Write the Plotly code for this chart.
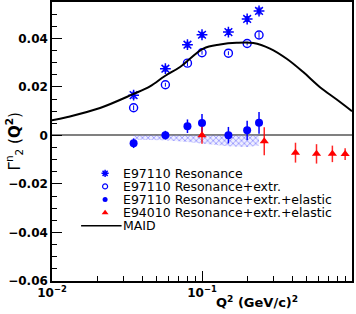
import plotly.graph_objects as go

# ---- data ----
q2_e97 = [0.035, 0.057, 0.080, 0.10, 0.15, 0.20, 0.24]
res = [0.0166, 0.0275, 0.0374, 0.0415, 0.0426, 0.0480, 0.0513]
res_err = [0.0012, 0.0010, 0.0010, 0.0010, 0.0010, 0.0010, 0.0012]
res_ext = [0.0114, 0.0209, 0.0298, 0.0341, 0.0339, 0.0379, 0.0414]
res_ext_err = [0.0010, 0.0008, 0.0012, 0.0008, 0.0008, 0.0008, 0.0012]
res_el = [-0.0032, 0.0001, 0.0038, 0.0051, 0.0001, 0.0021, 0.0052]
res_el_err = [0.0020, 0.0018, 0.0028, 0.0037, 0.0034, 0.0040, 0.0045]
sys_low = [-0.0018, -0.0020, -0.0027, -0.0032, -0.0045, -0.0048, -0.0041]

q2_e94 = [0.10, 0.26, 0.42, 0.58, 0.74, 0.90]
e94 = [0.0001, -0.0024, -0.0071, -0.0076, -0.0076, -0.0077]
e94_err = [0.0035, 0.0058, 0.0041, 0.0040, 0.0034, 0.0024]

maid_q2 = [0.01, 0.0125, 0.0209, 0.0347, 0.045, 0.0566, 0.0714, 0.102, 0.132,
           0.170, 0.220, 0.284, 0.367, 0.473, 0.612, 0.791, 1.0]
maid = [0.0062, 0.0075, 0.0113, 0.0170, 0.0202, 0.0245, 0.0282, 0.0358, 0.0375,
        0.0382, 0.0381, 0.0358, 0.0316, 0.0261, 0.0199, 0.0148, 0.0100]

series_names = ["E97110 Resonance", "E97110 Resonance+extr.",
                "E97110 Resonance+extr.+elastic", "E94010 Resonance+extr.+elastic", "MAID"]

y_ticks = [-0.06, -0.04, -0.02, 0, 0.02, 0.04]
y_ticklabels = ["\u22120.06", "\u22120.04", "\u22120.02", "0", "0.02", "0.04"]
x_ticks = [0.01, 0.1, 1]
x_ticklabels = ["10<sup>\u22122</sup>", "10<sup>\u22121</sup>", "1"]

BLUE = "#0000ff"
RED = "#ff0000"
FONT = "DejaVu Sans, Liberation Sans, Arial, sans-serif"

marker_styles = [
    dict(symbol="asterisk-open", size=9, color=BLUE, line=dict(color=BLUE, width=1.5)),
    dict(symbol="circle-open", size=8, color=BLUE, line=dict(color=BLUE, width=1.4)),
    dict(symbol="circle", size=8, color=BLUE),
    dict(symbol="triangle-up", size=8, color=RED),
]
legend_marker_styles = [
    dict(symbol="asterisk-open", size=6, color=BLUE, line=dict(color=BLUE, width=1.5)),
    dict(symbol="circle-open", size=5, color=BLUE, line=dict(color=BLUE, width=1.2)),
    dict(symbol="circle", size=5, color=BLUE),
    dict(symbol="triangle-up", size=6, color=RED),
]

fig = go.Figure()

# systematic band (hatched)
fig.add_trace(go.Scatter(
    x=q2_e97 + q2_e97[::-1],
    y=[0] * len(q2_e97) + sys_low[::-1],
    fill="toself", mode="lines", line=dict(width=0, color="rgba(0,0,0,0)"),
    fillcolor="rgba(255,255,255,0)",
    fillpattern=dict(shape="x", fgcolor="rgba(50,50,255,0.9)", bgcolor="rgba(205,205,255,0.35)",
                     size=4, solidity=0.4),
    showlegend=False, hoverinfo="skip"))

fig.add_trace(go.Scatter(
    x=q2_e97, y=res, mode="markers", name=series_names[0], marker=marker_styles[0],
    error_y=dict(type="data", array=res_err, color=BLUE, thickness=1, width=2)))

fig.add_trace(go.Scatter(
    x=q2_e97, y=res_ext, mode="markers", name=series_names[1], marker=marker_styles[1],
    error_y=dict(type="data", array=res_ext_err, color=BLUE, thickness=1, width=0)))

fig.add_trace(go.Scatter(
    x=q2_e97, y=res_el, mode="markers", name=series_names[2], marker=marker_styles[2],
    error_y=dict(type="data", array=res_el_err, color=BLUE, thickness=1.5, width=0)))

fig.add_trace(go.Scatter(
    x=q2_e94, y=e94, mode="markers", name=series_names[3], marker=marker_styles[3],
    error_y=dict(type="data", array=e94_err, color="rgba(255,0,0,0.85)", thickness=1.5, width=0)))

fig.add_trace(go.Scatter(
    x=maid_q2, y=maid, mode="lines", name=series_names[4],
    line=dict(color="black", width=2, shape="spline")))

# ---- compact legend drawn on an overlay axis (paper-like 0..1 frame) ----
leg_marker_x = 0.177
leg_text_x = 0.232
leg_top = 0.386
leg_step = 0.0470
leg_rows = [leg_top - i * leg_step for i in range(len(series_names))]

for i, ms in enumerate(legend_marker_styles):
    fig.add_trace(go.Scatter(
        x=[leg_marker_x], y=[leg_rows[i]], mode="markers", marker=ms,
        xaxis="x2", yaxis="y2", showlegend=False, hoverinfo="skip"))

annotations = []
for i, name in enumerate(series_names):
    annotations.append(dict(text=name, xref="paper", yref="paper", x=leg_text_x, y=leg_rows[i],
                            xanchor="left", yanchor="middle", showarrow=False, borderpad=0,
                            font=dict(family=FONT, size=12.5, color="black")))

shapes = [dict(type="line", xref="paper", yref="paper", x0=0.097, x1=0.232,
               y0=leg_rows[4], y1=leg_rows[4], line=dict(color="black", width=1.5))]

tickfont = dict(family=FONT, size=12, color="black", weight="bold")

annotations += [
    dict(text="<b>Q<sup>2</sup> (GeV/c)<sup>2</sup></b>", xref="paper", yref="paper",
         x=0.683, y=-0.074, xanchor="center", yanchor="middle", showarrow=False,
         font=dict(family=FONT, size=13, color="black")),
    dict(text="\u0393<sup>n</sup><sub>2</sub> (<b>Q<sup>2</sup></b>)", xref="paper", yref="paper",
         x=-0.127, y=0.50, xanchor="center", yanchor="middle", textangle=-90, showarrow=False,
         font=dict(family=FONT, size=15, color="black")),
]

fig.update_layout(
    width=356, height=314,
    margin=dict(l=52, r=4, t=2, b=33),
    paper_bgcolor="white", plot_bgcolor="white",
    showlegend=False,
    font=dict(family=FONT),
    xaxis=dict(type="log", range=[-2, 0], tickvals=x_ticks, ticktext=x_ticklabels,
               ticks="inside", ticklen=10, tickcolor="black", tickwidth=1,
               tickfont=tickfont, showgrid=False, zeroline=False, automargin=False,
               showline=True, linecolor="black", linewidth=1.5, mirror=True,
               minor=dict(ticks="inside", ticklen=5, tickcolor="black", dtick="D1", showgrid=False)),
    yaxis=dict(range=[-0.06, 0.055], tickvals=y_ticks, ticktext=y_ticklabels,
               ticks="inside", ticklen=10, tickcolor="black", tickwidth=1,
               tickfont=tickfont, showgrid=False, automargin=False,
               zeroline=True, zerolinecolor="#808080", zerolinewidth=1.5,
               showline=True, linecolor="black", linewidth=1.5, mirror=True,
               minor=dict(ticks="inside", ticklen=5, tickcolor="black", dtick=0.005, showgrid=False)),
    xaxis2=dict(range=[0, 1], overlaying="x", anchor="y2", visible=False, fixedrange=True),
    yaxis2=dict(range=[0, 1], overlaying="y", anchor="x2", visible=False, fixedrange=True),
    annotations=annotations,
    shapes=shapes,
)

fig.write_html("out.html", config={"displayModeBar": False},
               post_script="document.body.style.margin='0';document.body.style.overflow='hidden';")
